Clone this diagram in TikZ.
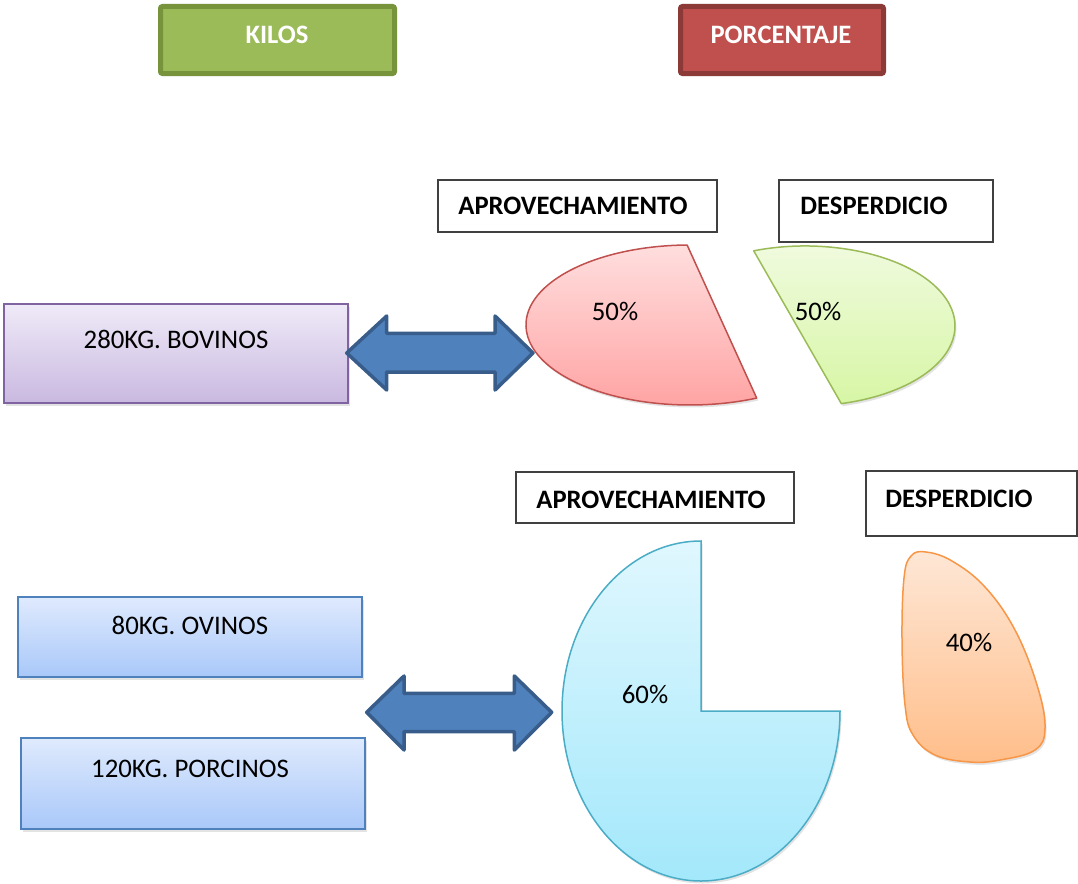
\documentclass[tikz,border=0pt]{standalone}
\usepackage{fontspec}
\setmainfont{Carlito}
\usetikzlibrary{shadows}
\definecolor{kilosfill}{HTML}{9BBB59}
\definecolor{kilosdraw}{HTML}{77933C}
\definecolor{porcfill}{HTML}{C0504D}
\definecolor{porcdraw}{HTML}{8C3A37}
\definecolor{lavtop}{HTML}{EFEAF8}
\definecolor{lavbot}{HTML}{C9B9E0}
\definecolor{lavdraw}{HTML}{8064A2}
\definecolor{bluetop}{HTML}{DFEAFD}
\definecolor{bluebot}{HTML}{A9C8F9}
\definecolor{bluedraw}{HTML}{4F81BD}
\definecolor{arrfill}{HTML}{4F81BD}
\definecolor{arrdraw}{HTML}{385D8A}
\definecolor{redtop}{HTML}{FFDEDE}
\definecolor{redbot}{HTML}{FFA3A3}
\definecolor{reddraw}{HTML}{C0504D}
\definecolor{greentop}{HTML}{F1FBE1}
\definecolor{greenbot}{HTML}{D7F6A5}
\definecolor{greendraw}{HTML}{9BBB59}
\definecolor{cyantop}{HTML}{E0F7FE}
\definecolor{cyanbot}{HTML}{A3E8FB}
\definecolor{cyandraw}{HTML}{4BACC6}
\definecolor{orgtop}{HTML}{FEE7D6}
\definecolor{orgbot}{HTML}{FFBE8A}
\definecolor{orgdraw}{HTML}{F79646}
\begin{document}
\begin{tikzpicture}[x=1pt,y=-1pt,
  lbl/.style={font=\fontsize{26.8}{30}\selectfont, inner sep=0pt, text=black},
  blbl/.style={font=\bfseries\fontsize{26.6}{30}\selectfont, inner sep=0pt, text=black},
  wlbl/.style={font=\bfseries\fontsize{26.6}{30}\selectfont, inner sep=0pt, text=white},
  plainbox/.style={draw=black!75, line width=1.2pt, fill=white, inner sep=0pt},
  headbox/.style={line width=5pt, rounded corners=2pt, inner sep=0pt, minimum height=67pt},
  soft/.style={drop shadow={opacity=0.22, shadow xshift=1.5pt, shadow yshift=-2.5pt}},
  lavbox/.style={draw=lavdraw, line width=1.5pt, top color=lavtop, bottom color=lavbot, inner sep=0pt, soft},
  bluebox/.style={draw=bluedraw, line width=1.5pt, top color=bluetop, bottom color=bluebot, inner sep=0pt, soft},
  dblarrow/.style={draw=arrdraw, fill=arrfill, line width=3.5pt, line join=round}
]
\useasboundingbox (0,0) rectangle (1078,883);

% header boxes
\node[headbox, draw=kilosdraw, fill=kilosfill, minimum width=234pt] (kilos) at (277.5,40) {};
\node[wlbl] (kilost) at (277,35) {KILOS};
\node[headbox, draw=porcdraw, fill=porcfill, minimum width=203pt] (porc) at (782,40) {};
\node[wlbl] (porct) at (781,35) {PORCENTAJE};

% label boxes
\node[plainbox, minimum width=279pt, minimum height=52pt] (ap1) at (577.5,206) {};
\node[blbl] (ap1t) at (573,206) {APROVECHAMIENTO};
\node[plainbox, minimum width=214pt, minimum height=62pt] (de1) at (886,211) {};
\node[blbl] (de1t) at (874,206) {DESPERDICIO};
\node[plainbox, minimum width=278pt, minimum height=51pt] (ap2) at (655,497.5) {};
\node[blbl] (ap2t) at (651,500) {APROVECHAMIENTO};
\node[plainbox, minimum width=211pt, minimum height=65pt] (de2) at (971.5,503.5) {};
\node[blbl] (de2t) at (959,499) {DESPERDICIO};

% kilo boxes
\node[lavbox, minimum width=344pt, minimum height=99pt] (bov) at (176,353.5) {};
\node[lbl] (bovt) at (176,339) {280KG. BOVINOS};
\node[bluebox, minimum width=344pt, minimum height=80pt] (ovi) at (190,637) {};
\node[lbl] (ovit) at (190,625) {80KG. OVINOS};
\node[bluebox, minimum width=344pt, minimum height=91pt] (por) at (193,783.5) {};
\node[lbl] (port) at (190,769) {120KG. PORCINOS};

% double arrows
\path[dblarrow] (346.7,353) -- (386.7,316) -- (386.7,333.3) -- (495,333.3) -- (495,316)
  -- (533,353) -- (495,390) -- (495,372) -- (386.7,372) -- (386.7,390) -- cycle;
\path[dblarrow] (366.7,712.3) -- (404,676) -- (404,693.3) -- (514.3,693.3) -- (514.3,676)
  -- (551.7,712.3) -- (514.3,750) -- (514.3,731.7) -- (404,731.7) -- (404,750) -- cycle;

% pies
\path[draw=reddraw, line width=1.5pt, top color=redtop, bottom color=redbot, line join=round, soft]
  (687.1,245) arc[start angle=269, end angle=66, x radius=164, y radius=80] -- cycle;
\path[draw=greendraw, line width=1.5pt, top color=greentop, bottom color=greenbot, line join=round, soft]
  (753.7,250.8) arc[start angle=-110, end angle=76, x radius=150, y radius=80] -- cycle;
\path[draw=cyandraw, line width=1.5pt, top color=cyantop, bottom color=cyanbot, line join=miter, soft]
  (701,541) arc[start angle=270, end angle=0, x radius=139, y radius=170] -- (701,711) -- cycle;
\path[draw=orgdraw, line width=1.5pt, top color=orgtop, bottom color=orgbot, soft]
  plot[smooth cycle, tension=0.65] coordinates {(904,578) (911,556) (926,552) (952,561) (985,587)
  (1015,630) (1037,685) (1045,728) (1035,750) (1000,760) (970,762) (935,755) (913,735) (905,705) (902,640)};

\node[lbl] (p1) at (615,311) {50\%};
\node[lbl] (p2) at (818,311) {50\%};
\node[lbl] (p3) at (645,694) {60\%};
\node[lbl] (p4) at (969,642) {40\%};
\end{tikzpicture}
\end{document}
